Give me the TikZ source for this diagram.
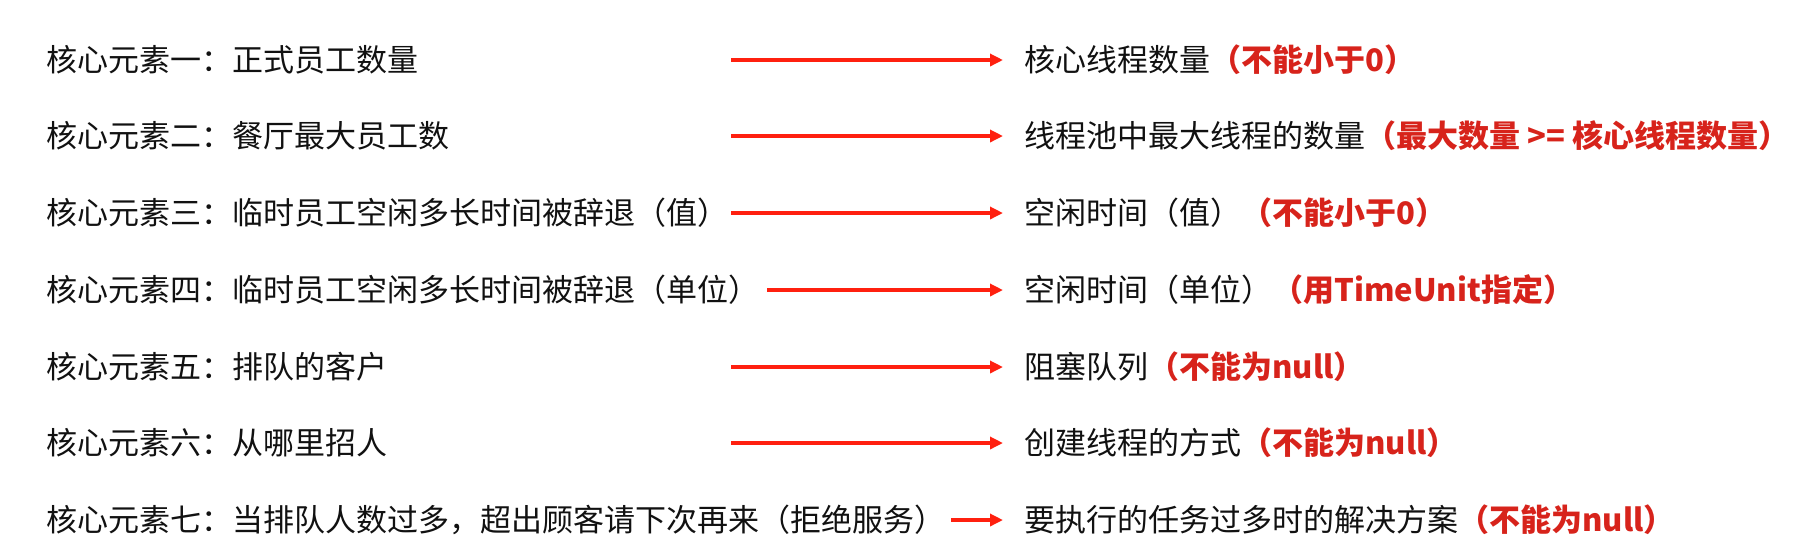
\documentclass[tikz,border=0pt]{standalone}
\usepackage{fontspec}
\setmainfont{Noto Sans CJK SC}
\usetikzlibrary{arrows.meta}
\definecolor{txtblack}{HTML}{111111}
\definecolor{notered}{HTML}{D7231B}
\definecolor{arrowred}{HTML}{FF200F}
\newcommand{\rednote}[1]{\textcolor{notered}{\bfseries #1}}
\begin{document}
\begin{tikzpicture}[x=0.5pt,y=-0.5pt,
  lbl/.style={anchor=west,inner sep=0pt,font=\fontsize{15.5pt}{18pt}\selectfont,text=txtblack},
  conn/.style={draw=arrowred,line width=2pt,-{Triangle[length=6.5pt,width=6pt]},shorten >=10.5pt},
]
\useasboundingbox (0,0) rectangle (1820,538);
% left texts
\node[lbl] (l1) at (46,60)  {核心元素一：正式员工数量};
\node[lbl] (l2) at (46,136) {核心元素二：餐厅最大员工数};
\node[lbl] (l3) at (46,213) {核心元素三：临时员工空闲多长时间被辞退（值）};
\node[lbl] (l4) at (46,290) {核心元素四：临时员工空闲多长时间被辞退（单位）};
\node[lbl] (l5) at (46,367) {核心元素五：排队的客户};
\node[lbl] (l6) at (46,443) {核心元素六：从哪里招人};
\node[lbl] (l7) at (46,520) {核心元素七：当排队人数过多，超出顾客请下次再来（拒绝服务）};
% right texts
\node[lbl] (r1) at (1024,60)  {核心线程数量\rednote{（不能小于0）}};
\node[lbl] (r2) at (1024,136) {线程池中最大线程的数量\rednote{（最大数量 >= 核心线程数量）}};
\node[lbl] (r3) at (1024,213) {空闲时间（值）\rednote{（不能小于0）}};
\node[lbl] (r4) at (1024,290) {空闲时间（单位）\rednote{（用TimeUnit指定）}};
\node[lbl] (r5) at (1024,367) {阻塞队列\rednote{（不能为null）}};
\node[lbl] (r6) at (1024,443) {创建线程的方式\rednote{（不能为null）}};
\node[lbl] (r7) at (1024,520) {要执行的任务过多时的解决方案\rednote{（不能为null）}};
% arrow start points
\coordinate (s1) at (731,60);
\coordinate (s2) at (731,136);
\coordinate (s3) at (731,213);
\coordinate (s4) at (767,290);
\coordinate (s5) at (731,367);
\coordinate (s6) at (731,443);
\coordinate (s7) at (951,520);
\draw[conn] (s1) -- (r1.west);
\draw[conn] (s2) -- (r2.west);
\draw[conn] (s3) -- (r3.west);
\draw[conn] (s4) -- (r4.west);
\draw[conn] (s5) -- (r5.west);
\draw[conn] (s6) -- (r6.west);
\draw[conn] (s7) -- (r7.west);
\end{tikzpicture}
\end{document}
